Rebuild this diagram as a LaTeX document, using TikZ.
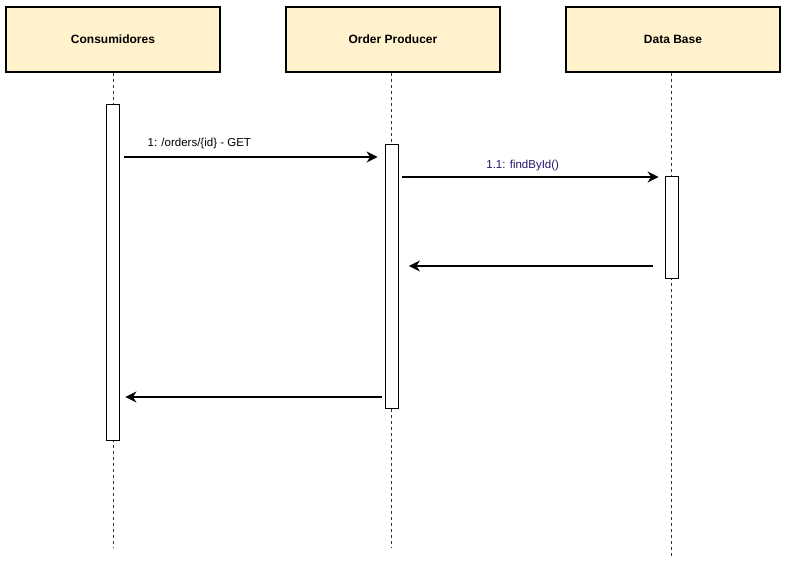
\documentclass[tikz,border=0pt]{standalone}
\usepackage{fontspec}
\setmainfont{Liberation Sans}
\usetikzlibrary{arrows.meta}
\definecolor{headfill}{RGB}{255,242,204}
\definecolor{calltext}{RGB}{40,20,110}

\begin{document}
\begin{tikzpicture}[x=1pt,y=-1pt,
  head/.style={draw=black,line width=1.5pt,fill=headfill,minimum width=214pt,minimum height=65pt,inner sep=0pt,font=\bfseries\fontsize{12}{14}\selectfont},
  life/.style={draw=black!80,line width=0.8pt,dash pattern=on 3pt off 3pt},
  actbar/.style={draw=black,line width=0.8pt,fill=white,minimum width=13pt,inner sep=0pt,anchor=north},
  msg/.style={-{Stealth[length=11pt,width=11pt,inset=3.5pt]},line width=1.7pt},
  lbl/.style={inner sep=0pt,font=\fontsize{11.5}{13}\selectfont}]
\useasboundingbox (0,0) rectangle (789,574);
% participants
\node[head] (cons) at (113,39.5) {Consumidores};
\node[head] (ordp) at (393,39.5) {Order Producer};
\node[head] (dbase) at (673,39.5) {Data Base};
% lifelines
\draw[life] (cons.south -| 113,0) -- (113,548);
\draw[life] (ordp.south -| 391.5,0) -- (391.5,548);
\draw[life] (dbase.south -| 671.5,0) -- (671.5,558);
% activations
\node[actbar,minimum height=336pt] (act1) at (113,104) {};
\node[actbar,minimum height=264pt] (act2) at (391.5,144) {};
\node[actbar,minimum height=102pt] (act3) at (671.5,176) {};
% messages
\draw[msg,shorten <=4.5pt,shorten >=7pt] (act1.east |- 0,157) -- (act2.west |- 0,157)
  node[lbl,above=7pt,pos=0.3] {1: /orders/\{id\} - GET};
\draw[msg,shorten <=3.5pt,shorten >=6pt] (act2.east |- 0,177) -- (act3.west |- 0,177)
  node[lbl,above=5pt,pos=0.467,text=calltext] {1.1: findById()};
\draw[msg,shorten <=12pt,shorten >=10.5pt] (act3.west |- 0,266) -- (act2.east |- 0,266);
\draw[msg,shorten <=2.5pt,shorten >=5.5pt] (act2.west |- 0,397) -- (act1.east |- 0,397);
\end{tikzpicture}
\end{document}
